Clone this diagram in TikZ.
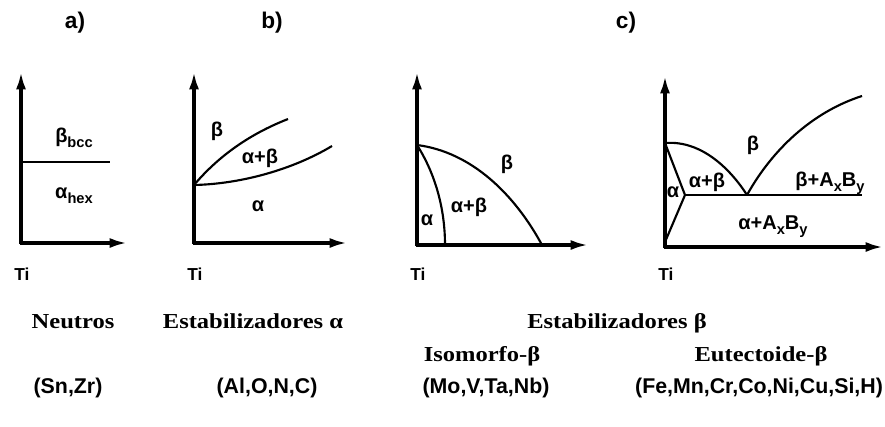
\documentclass[tikz,border=0pt]{standalone}
\usepackage{fontspec}
\setmainfont{Liberation Serif}
\newfontfamily\capfont[FakeStretch=1.15]{Liberation Serif}
\newfontfamily\lblfont{Liberation Sans}
\usetikzlibrary{arrows.meta}

\newcommand{\lowsub}[1]{\raisebox{-0.45ex}{\fontsize{11}{11}\selectfont #1}}

\tikzset{
	axis/.style={line width=2.4pt,-{Latex[length=13pt,width=7.5pt]}},
	phase/.style={line width=1.6pt},
	region/.style={font=\lblfont\bfseries\fontsize{15}{15}\selectfont,inner sep=0pt},
	tilabel/.style={font=\lblfont\bfseries\fontsize{13}{13}\selectfont},
	panel/.style={font=\lblfont\bfseries\fontsize{17}{17}\selectfont},
	caption/.style={font=\capfont\bfseries\fontsize{16}{16}\selectfont,anchor=base},
	elements/.style={font=\lblfont\bfseries\fontsize{16}{16}\selectfont}
}

\begin{document}
\begin{tikzpicture}[x=0.75pt,y=-0.75pt]
	\useasboundingbox (0,0) rectangle (885,426);

	% a) neutros
	\coordinate (Oa) at (21,243);
	\draw [axis] (21,244) -- (21,72);
	\draw [axis] (20,243) -- (127,243);
	\draw [phase] (Oa|-0,162) -- (110,162);
	\node [region] (bcc) at (74,138) {β\lowsub{bcc}};
	\node [region] (hex) at (74,196) {α\lowsub{hex}};
	\node [tilabel] (Ta) at (22,274) {Ti};

	% b) estabilizadores alfa
	\coordinate (Pb) at (194,185);
	\draw [axis] (194,244) -- (194,72);
	\draw [axis] (193,243) -- (347,243);
	\draw [phase] (Pb) .. controls (222,152) and (255,132) .. (288,119);
	\draw [phase] (Pb) .. controls (240,184) and (292,170) .. (332,146);
	\node [region] (Bb) at (217,131) {β};
	\node [region] (ABb) at (260,158) {α+β};
	\node [region] (Ab) at (258,206) {α};
	\node [tilabel] (Tb) at (195,274) {Ti};

	% isomorfo beta
	\coordinate (Pc) at (417,145);
	\draw [axis] (417,246) -- (417,72);
	\draw [axis] (416,245) -- (588,245);
	\draw [phase] (Pc) .. controls (472,152) and (515,195) .. (542,245);
	\draw [phase] (Pc) .. controls (436,175) and (445,210) .. (445,245);
	\node [region] (Bc) at (507,164) {β};
	\node [region] (ABc) at (469,207) {α+β};
	\node [region] (Ac) at (427,220) {α};
	\node [tilabel] (Tc) at (418,274) {Ti};

	% eutectoide beta
	\coordinate (Pd) at (665,143);
	\coordinate (Ed) at (747,195);
	\coordinate (Kd) at (685,195);
	\draw [axis] (665,248) -- (665,76);
	\draw [axis] (664,247) -- (883,247);
	\draw [phase] (Pd) .. controls (702,140) and (731,170) .. (Ed);
	\draw [phase] (Ed) .. controls (772,150) and (812,112) .. (862,96);
	\draw [phase] (Kd) -- (862,195);
	\draw [phase] (Pd) -- (Kd) -- (665,242);
	\node [region] (Bd) at (753,145) {β};
	\node [region] (ABd) at (707,182) {α+β};
	\node [region] (Ad) at (673,192) {α};
	\node [region] (BXd) at (830,183) {β+A\lowsub{x}B\lowsub{y}};
	\node [region] (AXd) at (773,227) {α+A\lowsub{x}B\lowsub{y}};
	\node [tilabel] (Td) at (666,274) {Ti};

	% rotulos
	\node [panel] (a) at (75,23) {a)};
	\node [panel] (b) at (272,23) {b)};
	\node [panel] (c) at (626,23) {c)};

	\node [caption] (neu) at (73,328) {Neutros};
	\node [caption] (estA) at (253,328) {Estabilizadores α};
	\node [caption] (estB) at (617,328) {Estabilizadores β};
	\node [caption] (iso) at (482,361) {Isomorfo-β};
	\node [caption] (eut) at (761,361) {Eutectoide-β};

	\node [elements] (snzr) at (68,388) {(Sn,Zr)};
	\node [elements] (alonc) at (267,388) {(Al,O,N,C)};
	\node [elements] (movt) at (486,388) {(Mo,V,Ta,Nb)};
	\node [elements] (femn) at (759,388) {(Fe,Mn,Cr,Co,Ni,Cu,Si,H)};
\end{tikzpicture}
\end{document}
